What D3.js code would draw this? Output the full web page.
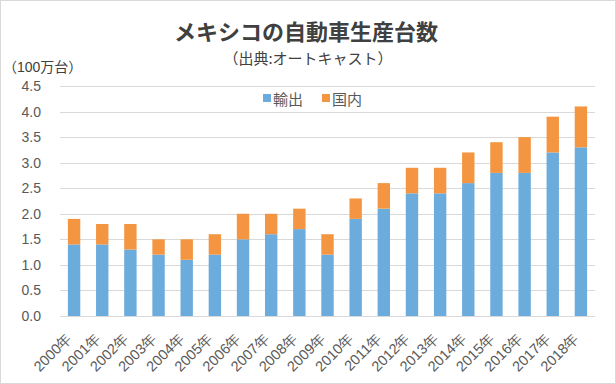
<!DOCTYPE html>
<html><head><meta charset="utf-8">
<script src="https://cdn.jsdelivr.net/npm/d3@7"></script>
<style>
html,body{margin:0;padding:0;background:#fff;}
svg{display:block;font-family:"Liberation Sans","Noto Sans CJK JP",sans-serif;}
</style></head><body>
<svg id="c" width="616" height="384"></svg>
<script>
const years = ["2000年","2001年","2002年","2003年","2004年","2005年","2006年","2007年","2008年","2009年","2010年","2011年","2012年","2013年","2014年","2015年","2016年","2017年","2018年"];
const exportVals = [1.4,1.4,1.3,1.2,1.1,1.2,1.5,1.6,1.7,1.2,1.9,2.1,2.4,2.4,2.6,2.8,2.8,3.2,3.3];
const domesticVals = [0.5,0.4,0.5,0.3,0.4,0.4,0.5,0.4,0.4,0.4,0.4,0.5,0.5,0.5,0.6,0.6,0.7,0.7,0.8];
const yTicks = [0,0.5,1,1.5,2,2.5,3,3.5,4,4.5];
const seriesNames = ["輸出","国内"];
const colors = ["#6CACDD","#F39541"];

(function(){
const svg = d3.select("#c");
svg.append("rect").attr("x",0.5).attr("y",0.5).attr("width",615).attr("height",383)
  .attr("fill","#fff").attr("stroke","#d9d9d9");

const pL=60, pR=595, pT=86, pB=316;
const x = d3.scaleBand().domain(years).range([pL,pR]).paddingInner(0.56).paddingOuter(0.28);
const y = d3.scaleLinear().domain([0,4.5]).range([pB,pT]);

svg.append("g").selectAll("line").data(yTicks).join("line")
  .attr("x1",pL).attr("x2",pR).attr("y1",d=>Math.round(y(d))+0.5).attr("y2",d=>Math.round(y(d))+0.5)
  .attr("stroke","#d9d9d9").attr("stroke-width",1);

const ya = svg.append("g").attr("transform",`translate(${pL},0)`)
  .call(d3.axisLeft(y).tickValues(yTicks).tickFormat(d3.format(".1f")).tickSize(0).tickPadding(19));
ya.select(".domain").remove();
ya.selectAll("text").attr("fill","#595959").attr("font-size",14).attr("font-family","Liberation Sans, sans-serif");

const table = years.map((yr,i)=>({year:yr, e:exportVals[i], d:domesticVals[i]}));
const stack = d3.stack().keys(["e","d"])(table);
svg.append("g").selectAll("g").data(stack).join("g").attr("fill",(d,i)=>colors[i])
  .selectAll("rect").data(d=>d).join("rect")
  .attr("x",d=>x(d.data.year)).attr("width",x.bandwidth())
  .attr("y",d=>y(d[1])).attr("height",d=>y(d[0])-y(d[1]));

const xa = svg.append("g").attr("transform",`translate(0,${pB})`)
  .call(d3.axisBottom(x).tickSize(0).tickPadding(0));
xa.select(".domain").remove();
xa.selectAll("text").attr("fill","#595959").attr("font-size",14.5)
  .attr("text-anchor","end").attr("dy",0)
  .attr("transform","translate(-1,23) rotate(-45)");

svg.append("text").attr("x",306).attr("y",40).attr("text-anchor","middle")
  .attr("font-size",22).attr("font-weight","bold").attr("fill","#404040")
  .attr("font-family","Noto Sans CJK JP, sans-serif").text("メキシコの自動車生産台数");
svg.append("text").attr("x",308).attr("y",64).attr("text-anchor","middle")
  .attr("font-size",15).attr("fill","#404040")
  .attr("font-family","Noto Sans CJK JP, sans-serif").text("（出典:オートキャスト）");
svg.append("text").attr("x",3).attr("y",72)
  .attr("font-size",14).attr("fill","#404040").text("（100万台）");

const leg = svg.append("g");
const lx = [263,322];
seriesNames.forEach((n,i)=>{
  leg.append("rect").attr("x",lx[i]).attr("y",94).attr("width",8).attr("height",8).attr("fill",colors[i]);
  leg.append("text").attr("x",lx[i]+10).attr("y",105).attr("font-size",15).attr("fill","#595959")
    .attr("font-family","Noto Sans CJK JP, sans-serif").text(n);
});
})();
</script>
</body></html>
